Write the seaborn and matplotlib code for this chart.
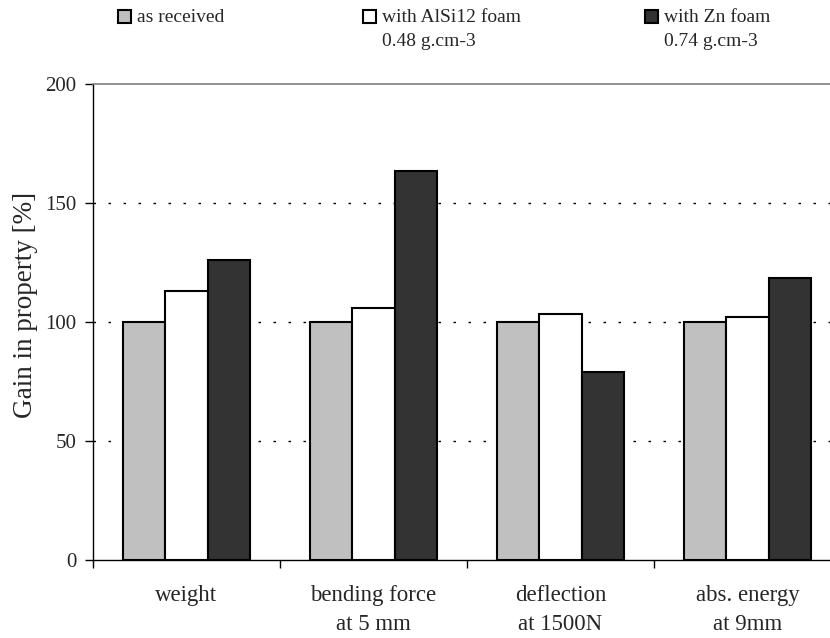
import matplotlib
matplotlib.use("Agg")
import matplotlib.pyplot as plt
from matplotlib.patches import Rectangle
import pandas as pd
import seaborn as sns

categories = ["weight", "bending force\nat 5 mm", "deflection\nat 1500N", "abs. energy\nat 9mm"]
series = ["as received", "with AlSi12 foam\n0.48 g.cm-3", "with Zn foam\n0.74 g.cm-3"]
as_received = [100, 100, 100, 100]
alsi12_foam = [113, 106, 103.4, 102.2]
zn_foam = [126, 163.4, 79, 118.3]
colors = ["#c0c0c0", "#ffffff", "#333333"]
y_ticks = [0, 50, 100, 150, 200]

rows = []
for name, vals in zip(series, [as_received, alsi12_foam, zn_foam]):
    for cat, v in zip(categories, vals):
        rows.append({"category": cat, "series": name, "value": v})
df = pd.DataFrame(rows)

sns.set_theme(style="white")
plt.rcParams["font.family"] = ["Liberation Serif", "DejaVu Serif"]

W, H = 830, 638
fig = plt.figure(figsize=(8.3, 6.38), dpi=100)
ax = fig.add_axes([93 / W, 1 - 560 / H, 748 / W, 476 / H])

sns.barplot(data=df, x="category", y="value", hue="series", order=categories,
            hue_order=series, palette=colors, width=0.675, edgecolor="black",
            linewidth=1.5, saturation=1, legend=False, ax=ax, zorder=3)

ax.set_xlim(-0.5, 3.5)
ax.set_ylim(0, 200)
ax.set_yticks(y_ticks)
ax.set_xlabel("")
ax.set_ylabel("Gain in property [%]", fontsize=19.5, va="center")
ax.yaxis.set_label_coords((25 - 93) / 748, (560 - 305) / 476)

# dotted horizontal grid at the inner ticks
for y in y_ticks[1:-1]:
    ax.axhline(y, color="black", lw=1, dashes=(1.8, 9), zorder=1)

ax.spines["right"].set_visible(False)
ax.spines["top"].set_color("#808080")
ax.spines["top"].set_linewidth(1.2)
for s in ["left", "bottom"]:
    ax.spines[s].set_color("black")
    ax.spines[s].set_linewidth(1)

ax.tick_params(axis="y", which="major", left=True, length=6, width=1,
               color="black", pad=6, labelsize=15)
ax.tick_params(axis="x", which="major", bottom=False, length=0, pad=18,
               labelsize=16.5)
ax.set_xticks([-0.5, 0.5, 1.5, 2.5, 3.5], minor=True)
ax.tick_params(axis="x", which="minor", bottom=True, length=6, width=1,
               color="black", direction="out")
for lbl in ax.get_xticklabels():
    lbl.set_linespacing(1.5)

# legend row along the top
legend_items = [
    (118, "as received", None, colors[0]),
    (363, "with AlSi12 foam", "0.48 g.cm-3", colors[1]),
    (645, "with Zn foam", "0.74 g.cm-3", colors[2]),
]
for x, line1, line2, c in legend_items:
    fig.patches.append(Rectangle((x / W, 1 - 23 / H), 13 / W, 13 / H,
                                 facecolor=c, edgecolor="black", lw=1.5,
                                 transform=fig.transFigure, figure=fig))
    fig.text((x + 19) / W, 1 - 17 / H, line1, fontsize=14,
             va="center", ha="left")
    if line2:
        fig.text((x + 19) / W, 1 - 42 / H, line2, fontsize=14,
                 va="center", ha="left")

fig.savefig("out.png", dpi=100)
